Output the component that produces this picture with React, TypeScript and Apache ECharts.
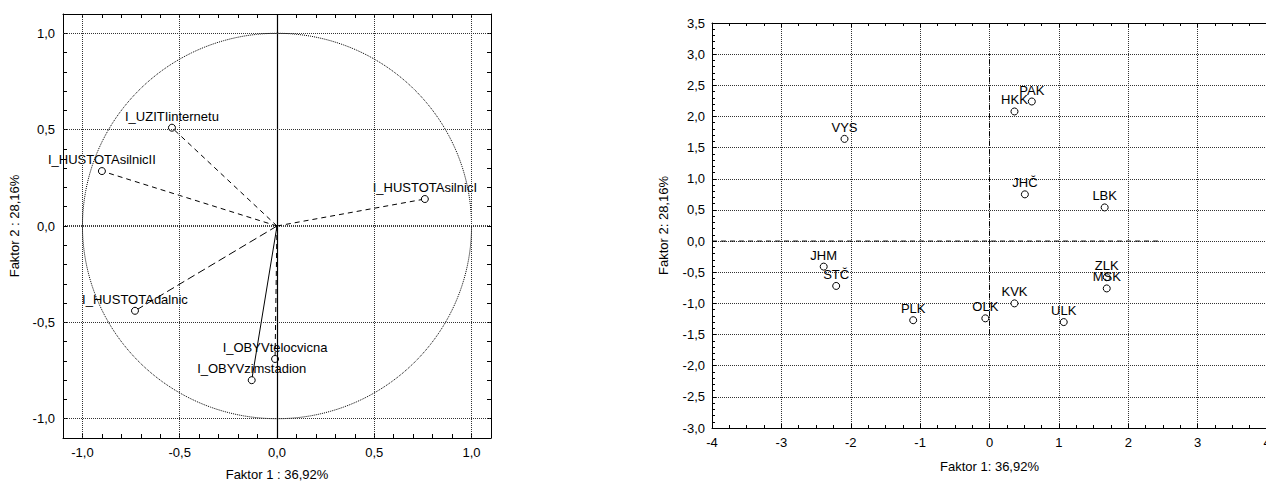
import React, { useEffect, useRef } from "react";
import * as echarts from "echarts";

// ---- Left chart: factor loadings (projection of variables) ----
const loadingNames = [
  "I_UZITIinternetu",
  "I_HUSTOTAsilnicII",
  "I_HUSTOTAsilnicI",
  "I_HUSTOTAdalnic",
  "I_OBYVzimstadion",
  "I_OBYVtelocvicna",
];
const loadingF1 = [-0.54, -0.9, 0.76, -0.73, -0.13, -0.01];
const loadingF2 = [0.51, 0.285, 0.14, -0.44, -0.8, -0.69];
const loadingLineTypes = ["dashed", "dashed", "dashed", "longdash", "solid", "dashed"];
const loadingMajorTicks = [-1, -0.5, 0, 0.5, 1];

// ---- Right chart: factor scores (regions) ----
const regionNames = ["VYS", "HKK", "PAK", "JHČ", "LBK", "JHM", "STČ", "PLK", "OLK", "KVK", "ULK", "MSK", "ZLK"];
const regionF1 = [-2.09, 0.36, 0.61, 0.51, 1.66, -2.39, -2.21, -1.1, -0.06, 0.36, 1.07, 1.69, 1.69];
const regionF2 = [1.64, 2.08, 2.24, 0.75, 0.54, -0.41, -0.72, -1.27, -1.24, -1.0, -1.3, -0.76, -0.58];
const meanLineHoriz = [[-4, 0], [2.5, 0]];
const meanLineVert = [[0, -1.5], [0, 3.0]];

const FONT = '"Liberation Sans", Arial, sans-serif';
const GRID_COLOR = "#333";

const fmt1 = (v: number) => {
  const r = Math.round(v * 10) / 10;
  return (r === 0 ? 0 : r).toFixed(1).replace(".", ",");
};

function dashOf(t: string): any {
  if (t === "solid") return "solid";
  if (t === "longdash") return [8, 4];
  return [5, 4];
}

export default function App() {
  const ref = useRef<HTMLDivElement>(null);
  useEffect(() => {
    if (!ref.current) return;
    const chart = echarts.init(ref.current, null, { renderer: "svg" });

    const circle: number[][] = [];
    for (let a = 0; a <= 360; a += 2) {
      const r = (a * Math.PI) / 180;
      circle.push([Math.cos(r), Math.sin(r)]);
    }

    const axisText = { color: "#000", fontSize: 13, fontFamily: FONT };
    const blackLine = { show: true, onZero: false, lineStyle: { color: "#000", width: 1 } };

    const leftX = {
      type: "value",
      gridIndex: 0,
      min: -1.1,
      max: 1.1,
      interval: 0.1,
      axisLine: blackLine,
      axisTick: { show: true, inside: true, length: 4, lineStyle: { color: "#000" } },
      splitLine: { show: false },
    };
    const leftY = { ...leftX };

    const markData: any[] = [];
    loadingMajorTicks.forEach((v) => {
      markData.push({
        xAxis: v,
        lineStyle: v === 0 ? { type: "solid", color: "#000", width: 1.2 } : { type: [1, 1], color: GRID_COLOR, width: 1 },
      });
      markData.push({
        yAxis: v,
        lineStyle: v === 0 ? { type: [1, 1], color: "#000", width: 1.5 } : { type: [1, 1], color: GRID_COLOR, width: 1 },
      });
    });

    const series: any[] = [
      {
        type: "line",
        xAxisIndex: 0,
        yAxisIndex: 0,
        data: circle,
        showSymbol: false,
        symbol: "none",
        silent: true,
        lineStyle: { color: "#000", width: 1, type: [1, 1] },
        markLine: {
          silent: true,
          symbol: ["none", "none"],
          label: { show: false },
          animation: false,
          data: markData,
        },
        z: 2,
      },
    ];

    loadingNames.forEach((name, i) => {
      series.push({
        type: "line",
        xAxisIndex: 0,
        yAxisIndex: 0,
        name,
        lineStyle: { color: "#000", width: 1, type: dashOf(loadingLineTypes[i]) },
        data: [
          { value: [0, 0], symbol: "none" },
          {
            value: [loadingF1[i], loadingF2[i]],
            symbol: "circle",
            symbolSize: 7,
            itemStyle: { color: "#fff", borderColor: "#000", borderWidth: 1 },
            label: {
              show: true,
              position: "top",
              distance: 1,
              formatter: name,
              color: "#000",
              fontSize: 13,
              fontFamily: FONT,
            },
          },
        ],
        z: 4,
      });
    });

    series.push(
      {
        type: "line",
        xAxisIndex: 2,
        yAxisIndex: 2,
        data: meanLineHoriz,
        symbol: "none",
        silent: true,
        lineStyle: { color: "#000", width: 1, type: [5, 4] },
        z: 3,
      },
      {
        type: "line",
        xAxisIndex: 2,
        yAxisIndex: 2,
        data: meanLineVert,
        symbol: "none",
        silent: true,
        lineStyle: { color: "#000", width: 1, type: [5, 4] },
        z: 3,
      },
      {
        type: "scatter",
        xAxisIndex: 2,
        yAxisIndex: 2,
        symbol: "circle",
        symbolSize: 7,
        itemStyle: { color: "#fff", borderColor: "#000", borderWidth: 1, opacity: 1 },
        label: {
          show: true,
          position: "top",
          distance: 1,
          formatter: "{b}",
          color: "#000",
          fontSize: 13,
          fontFamily: FONT,
        },
        data: regionNames.map((n, i) => ({ name: n, value: [regionF1[i], regionF2[i]] })),
        z: 5,
      }
    );

    const option: any = {
      animation: false,
      backgroundColor: "#fff",
      grid: [
        { left: 63, top: 14, width: 428, height: 426 },
        { left: 712, top: 23, width: 555, height: 405 },
      ],
      xAxis: [
        {
          ...leftX,
          position: "bottom",
          name: "Faktor 1 : 36,92%",
          nameLocation: "middle",
          nameGap: 30,
          nameTextStyle: axisText,
          axisLabel: {
            ...axisText,
            margin: 8,
            formatter: (v: number) => (Math.abs(Math.round(v * 10)) % 5 === 0 ? fmt1(v) : ""),
          },
        },
        { ...leftX, position: "top", axisLabel: { show: false } },
        {
          type: "value",
          gridIndex: 1,
          position: "bottom",
          min: -4,
          max: 4,
          interval: 1,
          axisLine: blackLine,
          axisTick: { show: true, inside: true, length: 4, lineStyle: { color: "#000" } },
          minorTick: { show: true, splitNumber: 4, length: 3, lineStyle: { color: "#000" } },
          splitLine: { show: true, lineStyle: { type: [1, 1], color: GRID_COLOR, width: 1 } },
          axisLabel: { ...axisText, margin: 8 },
          name: "Faktor 1: 36,92%",
          nameLocation: "middle",
          nameGap: 32,
          nameTextStyle: axisText,
        },
        {
          type: "value",
          gridIndex: 1,
          position: "top",
          min: -4,
          max: 4,
          interval: 1,
          axisLine: blackLine,
          axisTick: { show: true, inside: true, length: 4, lineStyle: { color: "#000" } },
          minorTick: { show: true, splitNumber: 4, length: 3, lineStyle: { color: "#000" } },
          splitLine: { show: false },
          axisLabel: { show: false },
        },
      ],
      yAxis: [
        {
          ...leftY,
          position: "left",
          name: "Faktor 2 : 28,16%",
          nameLocation: "middle",
          nameGap: 42,
          nameTextStyle: axisText,
          axisLabel: {
            ...axisText,
            margin: 8,
            formatter: (v: number) => (Math.abs(Math.round(v * 10)) % 5 === 0 ? fmt1(v) : ""),
          },
        },
        { ...leftY, position: "right", axisLabel: { show: false } },
        {
          type: "value",
          gridIndex: 1,
          position: "left",
          min: -3,
          max: 3.5,
          interval: 0.5,
          axisLine: blackLine,
          axisTick: { show: true, inside: true, length: 4, lineStyle: { color: "#000" } },
          minorTick: { show: true, splitNumber: 5, length: 3, lineStyle: { color: "#000" } },
          splitLine: { show: true, lineStyle: { type: [1, 1], color: GRID_COLOR, width: 1 } },
          axisLabel: { ...axisText, margin: 7, formatter: (v: number) => fmt1(v) },
          name: "Faktor 2: 28,16%",
          nameLocation: "middle",
          nameGap: 42,
          nameTextStyle: axisText,
        },
      ],
      series,
    };

    chart.setOption(option);
    return () => chart.dispose();
  }, []);

  return (
    <div
      style={{
        position: "absolute",
        left: 0,
        top: 0,
        width: 1266,
        height: 486,
        overflow: "hidden",
        background: "#fff",
      }}
    >
      <div ref={ref} style={{ width: 1290, height: 486 }} />
    </div>
  );
}
